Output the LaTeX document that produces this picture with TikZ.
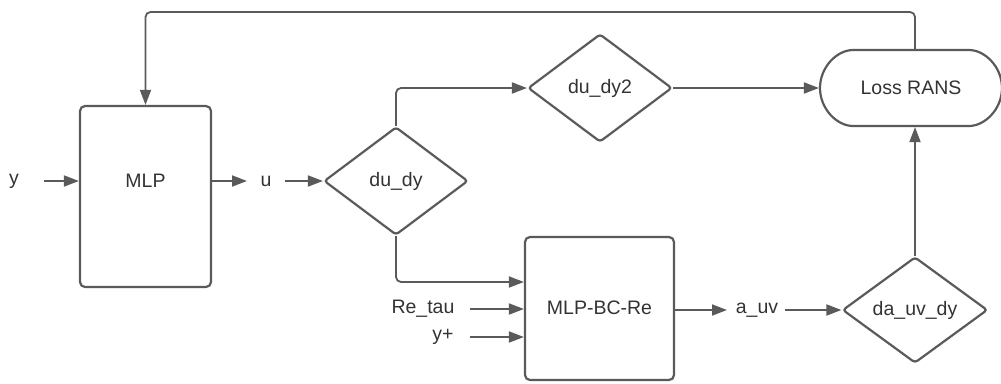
\documentclass[tikz,border=0pt]{standalone}
\usepackage{fontspec}
\setmainfont{Liberation Sans}
\usetikzlibrary{shapes.geometric,shapes.misc,arrows.meta}
\definecolor{ln}{HTML}{5A5A5A}
\definecolor{tx}{HTML}{333333}
\tikzset{
  box/.style={draw=ln,line width=2.2pt,rounded corners=5pt,fill=white,inner sep=0pt},
  dia/.style={draw=ln,line width=2.2pt,diamond,rounded corners=3pt,inner sep=0pt,fill=white},
  lbl/.style={text=tx,inner sep=0pt,font=\fontsize{19.5}{22}\selectfont},
  conn/.style={draw=ln,line width=1.8pt,rounded corners=5pt,-{Triangle[length=15pt,width=11pt]}}
}
\begin{document}
\begin{tikzpicture}[x=1pt,y=-1pt]
\useasboundingbox (0,0) rectangle (1001,383);
% nodes
\node[box,minimum width=131pt,minimum height=181pt] (mlp) at (145.5,196.5) {};
\node[lbl] at (145.5,181) {MLP};
\node[lbl] (y) at (14,181) {y};
\node[lbl] (u) at (266,181) {u};
\node[dia,minimum width=144pt,minimum height=108pt,lbl] (dudy) at (396,181) {du\_dy};
\node[dia,minimum width=144pt,minimum height=108pt,lbl] (dudy2) at (600,88) {du\_dy2};
\node[box,rounded rectangle,minimum width=182pt,minimum height=76pt,lbl] (loss) at (911,88) {Loss RANS};
\node[box,minimum width=149pt,minimum height=143pt] (bc) at (599.5,308.5) {};
\node[lbl] at (599.5,308) {MLP-BC-Re};
\node[lbl] (retau) at (423,309) {Re\_tau};
\node[lbl] (yp) at (443,337) {y+};
\node[lbl] (auv) at (757,310) {a\_uv};
\node[dia,minimum width=145pt,minimum height=106pt,lbl] (dauv) at (915,310) {da\_uv\_dy};
% connectors
\coordinate (ystart) at (44,181);
\coordinate (uend) at (247,181);
\coordinate (ustart) at (285,181);
\coordinate (rtstart) at (470,309);
\coordinate (ypstart) at (470,337);
\coordinate (auvend) at (727,310);
\coordinate (auvstart) at (785,310);
\coordinate (fb) at (915,50);
\draw[conn] (ystart) -- (mlp.west |- ystart);
\draw[conn] (mlp.east |- uend) -- (uend);
\draw[conn] (ustart) -- (dudy.west);
\draw[conn] (dudy.north) |- (dudy2.west);
\draw[conn] (dudy2.east) -- (loss.west);
\draw[conn] (fb) -- ++(0,-38) -| (mlp.north);
\draw[conn] (dudy.south) |- (bc.west |- 0,282);
\draw[conn] (rtstart) -- (bc.west |- rtstart);
\draw[conn] (ypstart) -- (bc.west |- ypstart);
\draw[conn] (bc.east |- auvend) -- (auvend);
\draw[conn] (auvstart) -- (dauv.west);
\draw[conn] (dauv.north) -- (loss.south -| dauv.north);
\end{tikzpicture}
\end{document}
